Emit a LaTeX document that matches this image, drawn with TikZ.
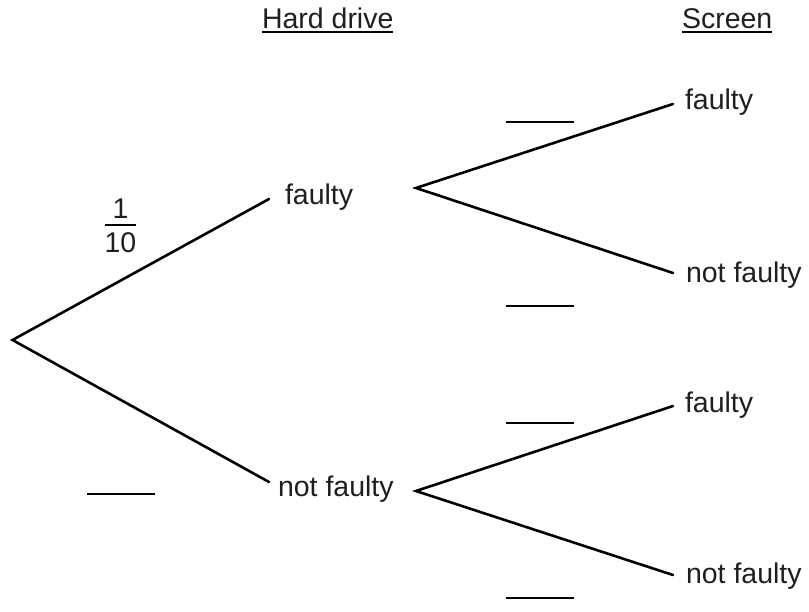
\documentclass[tikz,border=0pt]{standalone}
\usepackage{fontspec}
\setmainfont{Liberation Sans}
\begin{document}
\begin{tikzpicture}[x=1pt,y=-1pt,
  lbl/.style={inner sep=0pt,outer sep=0pt,font=\fontsize{28.5}{34}\selectfont,text=black!88},
  branch/.style={line width=2.6pt,line cap=round,line join=miter},
  blank/.style={line width=2.4pt},
  uline/.style={line width=2pt}]
\useasboundingbox (0,0) rectangle (809,612);
% headers
\node[lbl,anchor=base west] (hd) at (262,28.5) {Hard drive};
\draw[uline] ([yshift=-4pt]hd.base west) -- ([yshift=-4pt]hd.base east);
\node[lbl,anchor=base west] (sc) at (682,28.5) {Screen};
\draw[uline] ([yshift=-4pt]sc.base west) -- ([yshift=-4pt]sc.base east);
% coordinates
\coordinate (r) at (12.5,340);
\coordinate (a1) at (269,199);
\coordinate (a2) at (269,482);
\coordinate (b1) at (416,188);
\coordinate (b2) at (416,491);
\coordinate (c1) at (673,104);
\coordinate (c2) at (673,273);
\coordinate (c3) at (673,406);
\coordinate (c4) at (673,575);
% labels
\node[lbl,anchor=west] (hf) at (285,197.5) {faulty};
\node[lbl,anchor=west] (hn) at (278,489) {not faulty};
\node[lbl,anchor=west] (s1) at (685,102) {faulty};
\node[lbl,anchor=west] (s2) at (686,275) {not faulty};
\node[lbl,anchor=west] (s3) at (685,405.5) {faulty};
\node[lbl,anchor=west] (s4) at (686,576) {not faulty};
% branches
\draw[branch] (a1) -- (r) -- (a2);
\draw[branch] (c1) -- (b1) -- (c2);
\draw[branch] (c3) -- (b2) -- (c4);
% fraction
\node[lbl] (num) at (120.5,209) {1};
\node[lbl] (den) at (120.5,243) {10};
\coordinate (fl) at (105,225);
\coordinate (fr) at (136,225);
\draw[blank] (fl) -- (fr);
% blanks
\coordinate (k1) at (87,494); \coordinate (k2) at (155,494);
\draw[blank] (k1) -- (k2);
\coordinate (u1) at (506,122); \coordinate (u2) at (574,122);
\draw[blank] (u1) -- (u2);
\coordinate (u3) at (506,306); \coordinate (u4) at (574,306);
\draw[blank] (u3) -- (u4);
\coordinate (u5) at (506,423); \coordinate (u6) at (574,423);
\draw[blank] (u5) -- (u6);
\coordinate (u7) at (506,598); \coordinate (u8) at (574,598);
\draw[blank] (u7) -- (u8);
\end{tikzpicture}
\end{document}
